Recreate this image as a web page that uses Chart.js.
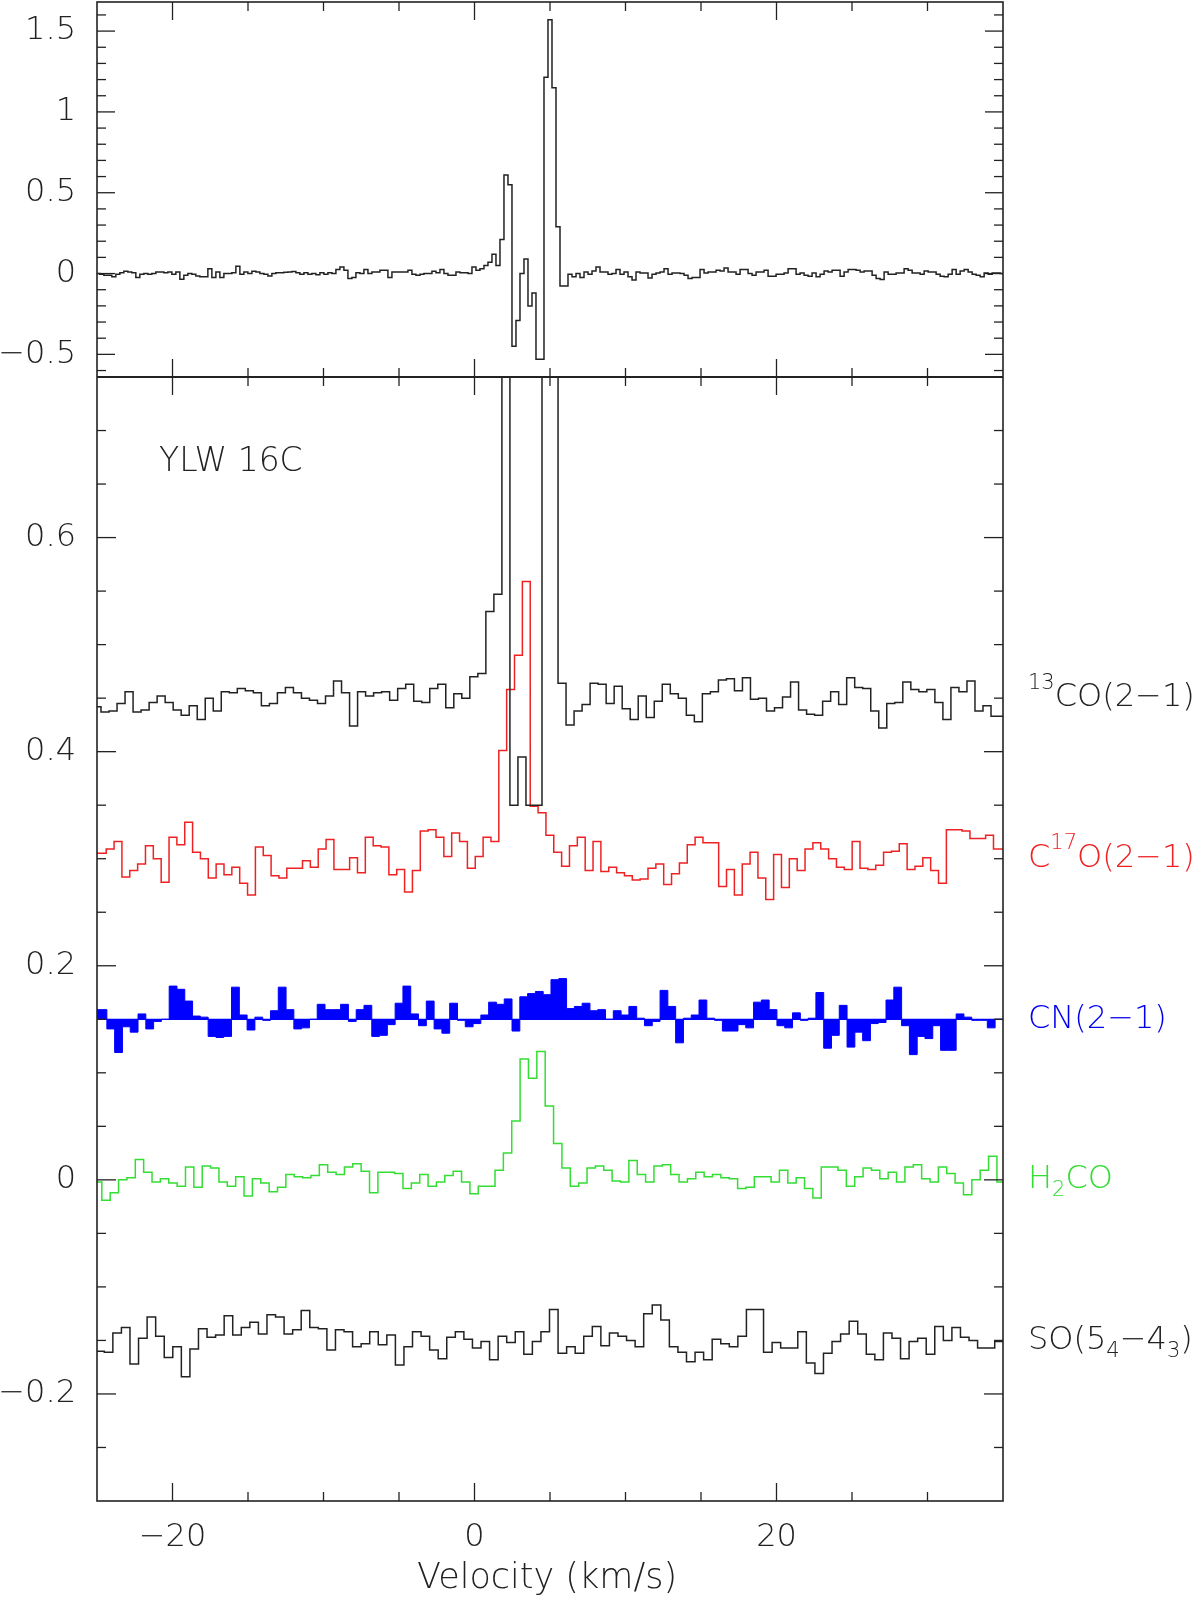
<!DOCTYPE html>
<html>
<head>
<meta charset="utf-8">
<script src="https://cdn.jsdelivr.net/npm/chart.js@4.4.1/dist/chart.umd.min.js"></script>
<style>
  html, body { margin: 0; padding: 0; background: #fff; }
  canvas { display: block; }
</style>
</head>
<body>
<canvas id="mycanvas" width="1200" height="1597" style="width:1200px;height:1597px"></canvas>
<script>
// axis ranges
var velRange = [-25, 35];
var topRange = [-0.64, 1.68];
var botRange = [-0.3, 0.75];

// tick positions and labels
var xMajor = [-20, 0, 20];
var xLabels = ['\u221220', '0', '20'];
var topMajor = [-0.5, 0, 0.5, 1, 1.5];
var topLabels = ['\u22120.5', '0', '0.5', '1', '1.5'];
var botMajor = [-0.2, 0, 0.2, 0.4, 0.6];
var botLabels = ['\u22120.2', '0', '0.2', '0.4', '0.6'];

// top panel spectrum (left edge of first channel, channel width, values)
var topStart = -25.078, topWidth = 0.265;
var topVals = [
  0.0, -0.005, -0.01, -0.01, -0.02, -0.005, 0.005, 0.015, 0.01, 0.005,
  -0.025, -0.005, 0.0, -0.005, 0.0, 0.01, 0.01, 0.005, 0.01, -0.005,
  0.01, -0.035, -0.01, 0.0, -0.005, -0.015, -0.02, -0.02, 0.03, -0.025,
  0.01, -0.025, 0.0, 0.0, 0.005, 0.045, -0.005, 0.01, 0.0, 0.015,
  0.01, 0.0, -0.005, -0.015, 0.0, 0.005, 0.005, 0.008, 0.01, 0.012,
  0.005, -0.005, 0.005, -0.005, 0.0, -0.008, 0.005, -0.005, 0.005, 0.0,
  0.025, 0.04, 0.02, -0.03, -0.025, 0.005, 0.0, 0.025, 0.0, 0.01,
  0.01, 0.02, 0.02, -0.025, 0.01, 0.01, 0.01, 0.01, 0.02, -0.005,
  -0.01, -0.005, 0.0, 0.0, 0.015, 0.005, 0.025, 0.0, -0.01, -0.01,
  0.01, 0.005, 0.005, 0.0, 0.04, 0.02, 0.03, 0.05, 0.07, 0.12,
  0.05, 0.21, 0.61, 0.55, -0.45, -0.29, 0.0, 0.09, -0.20, -0.12,
  -0.53, -0.53, 1.215, 1.57, 1.15, 0.29, -0.077, -0.077, -0.004, -0.02,
  0.0, -0.024, 0.01, -0.004, 0.016, 0.04, 0.01, 0.01, -0.004, 0.0,
  0.025, -0.004, 0.01, -0.02, -0.04, 0.01, 0.004, 0.004, -0.027, -0.004,
  0.004, 0.01, 0.03, -0.004, 0.004, 0.004, 0.0, -0.01, -0.03, -0.025,
  -0.025, 0.025, 0.004, 0.01, 0.01, 0.02, 0.016, 0.035, 0.01, 0.01,
  -0.004, 0.025, 0.025, 0.0, -0.01, 0.01, 0.01, 0.02, -0.016, -0.016,
  -0.004, -0.004, 0.004, 0.03, 0.03, -0.004, 0.004, -0.01, -0.016, 0.004,
  -0.02, -0.004, 0.016, 0.01, 0.02, 0.02, -0.016, 0.01, 0.025, 0.025,
  0.02, 0.01, 0.016, 0.016, -0.01, -0.03, -0.037, 0.01, -0.004, -0.004,
  0.004, 0.004, 0.03, 0.02, 0.004, 0.004, -0.004, 0.016, 0.01, 0.01,
  -0.004, -0.016, -0.02, -0.004, 0.025, -0.004, 0.016, 0.025, 0.01, -0.004,
  -0.01, -0.02, 0.004, -0.004, 0.004, 0.004, 0.0
];

// bottom panel spectra, already shifted by their offsets
var co13Start = -25.266, co13Width = 0.531;
var co13 = [
  0.442, 0.437, 0.438, 0.445, 0.456, 0.437, 0.439, 0.446, 0.452, 0.446,
  0.439, 0.434, 0.443, 0.430, 0.450, 0.438, 0.456, 0.455, 0.459, 0.457,
  0.455, 0.443, 0.445, 0.455, 0.460, 0.455, 0.450, 0.448, 0.445, 0.452,
  0.466, 0.455, 0.424, 0.456, 0.452, 0.455, 0.456, 0.448, 0.459, 0.463,
  0.447, 0.446, 0.459, 0.463, 0.441, 0.454, 0.450, 0.470, 0.473, 0.531,
  0.547, 0.90, 0.350, 0.395, 0.350, 0.350, 1.20, 1.00, 0.464, 0.425,
  0.438, 0.444, 0.464, 0.463, 0.445, 0.461, 0.440, 0.430, 0.452, 0.432,
  0.447, 0.463, 0.454, 0.450, 0.434, 0.428, 0.454, 0.456, 0.467, 0.468,
  0.457, 0.469, 0.449, 0.450, 0.438, 0.441, 0.451, 0.465, 0.439, 0.435,
  0.434, 0.447, 0.456, 0.444, 0.469, 0.460, 0.459, 0.438, 0.422, 0.445,
  0.446, 0.465, 0.458, 0.456, 0.458, 0.446, 0.430, 0.460, 0.456, 0.466,
  0.438, 0.443, 0.433, 0.433
];

var c17oStart = -25.43, c17oWidth = 0.52;
var c17o = [
  0.305, 0.305, 0.309, 0.316, 0.283, 0.289, 0.295, 0.312, 0.300, 0.278,
  0.320, 0.313, 0.334, 0.306, 0.300, 0.282, 0.295, 0.285, 0.292, 0.277,
  0.266, 0.311, 0.303, 0.284, 0.282, 0.291, 0.291, 0.298, 0.292, 0.309,
  0.318, 0.290, 0.290, 0.301, 0.287, 0.320, 0.312, 0.311, 0.285, 0.290,
  0.269, 0.289, 0.326, 0.327, 0.320, 0.302, 0.324, 0.316, 0.291, 0.302,
  0.320, 0.316, 0.401, 0.458, 0.490, 0.559, 0.349, 0.343, 0.322, 0.306,
  0.293, 0.312, 0.320, 0.289, 0.316, 0.288, 0.292, 0.287, 0.284, 0.280,
  0.281, 0.291, 0.295, 0.276, 0.286, 0.296, 0.313, 0.320, 0.315, 0.315,
  0.274, 0.290, 0.266, 0.295, 0.306, 0.282, 0.262, 0.304, 0.273, 0.300,
  0.289, 0.309, 0.315, 0.309, 0.300, 0.292, 0.290, 0.316, 0.291, 0.290,
  0.294, 0.306, 0.307, 0.314, 0.290, 0.293, 0.301, 0.289, 0.277, 0.327,
  0.327, 0.326, 0.319, 0.319, 0.322, 0.309, 0.309
];

var cnStart = -25.379, cnWidth = 0.516;
var cn = [
  0.159, 0.159, 0.141, 0.119, 0.143, 0.138, 0.155, 0.141, 0.148, 0.150,
  0.181, 0.178, 0.167, 0.153, 0.152, 0.134, 0.133, 0.134, 0.180, 0.154,
  0.140, 0.152, 0.149, 0.158, 0.180, 0.159, 0.141, 0.142, 0.150, 0.164,
  0.159, 0.159, 0.164, 0.148, 0.159, 0.163, 0.134, 0.135, 0.145, 0.165,
  0.181, 0.155, 0.144, 0.167, 0.141, 0.137, 0.165, 0.149, 0.143, 0.146,
  0.154, 0.166, 0.164, 0.169, 0.139, 0.171, 0.174, 0.176, 0.173, 0.187,
  0.188, 0.160, 0.162, 0.165, 0.158, 0.159, 0.150, 0.158, 0.154, 0.162,
  0.151, 0.144, 0.148, 0.177, 0.162, 0.128, 0.151, 0.154, 0.168, 0.151,
  0.149, 0.139, 0.139, 0.145, 0.142, 0.166, 0.168, 0.159, 0.144, 0.142,
  0.156, 0.149, 0.151, 0.175, 0.123, 0.135, 0.163, 0.124, 0.138, 0.130,
  0.146, 0.147, 0.168, 0.180, 0.144, 0.117, 0.134, 0.132, 0.144, 0.121,
  0.121, 0.155, 0.152, 0.149, 0.149, 0.142, 0.150, 0.150
];

var h2coStart = -25.234, h2coWidth = 0.554;
var h2co = [
  -0.002, -0.019, -0.012, 0.0, 0.002, 0.019, 0.007, -0.002, 0.001, -0.003,
  -0.006, 0.012, -0.007, 0.013, 0.011, -0.002, -0.006, 0.003, -0.015, 0.001,
  -0.003, -0.011, -0.007, 0.005, 0.003, 0.002, 0.004, 0.014, 0.007, 0.005,
  0.012, 0.015, 0.008, -0.012, 0.007, 0.007, 0.006, -0.008, -0.003, 0.005,
  -0.006, -0.002, 0.004, 0.008, -0.002, -0.013, -0.006, -0.006, 0.009, 0.025,
  0.055, 0.113, 0.095, 0.120, 0.069, 0.034, 0.011, -0.006, -0.003, 0.011,
  0.013, 0.009, -0.001, -0.002, 0.018, 0.005, -0.002, 0.013, 0.014, 0.005,
  -0.002, 0.001, 0.007, 0.003, 0.005, 0.002, 0.001, -0.008, -0.007, 0.003,
  0.003, -0.002, 0.009, -0.003, 0.002, -0.008, -0.017, 0.012, 0.012, 0.009,
  -0.006, 0.003, 0.011, 0.009, 0.001, 0.007, -0.002, 0.012, 0.014, 0.001,
  -0.002, 0.012, 0.006, -0.003, -0.014, 0.0, 0.009, 0.022, -0.002, -0.002
];

var soStart = -25.084, soWidth = 0.567;
var so = [
  -0.160, -0.161, -0.143, -0.138, -0.172, -0.148, -0.128, -0.146, -0.166, -0.156,
  -0.184, -0.158, -0.139, -0.147, -0.145, -0.127, -0.145, -0.138, -0.133, -0.144,
  -0.126, -0.128, -0.144, -0.140, -0.122, -0.138, -0.139, -0.159, -0.140, -0.142,
  -0.156, -0.153, -0.142, -0.154, -0.145, -0.173, -0.156, -0.142, -0.146, -0.159,
  -0.167, -0.147, -0.142, -0.149, -0.157, -0.151, -0.168, -0.146, -0.152, -0.142,
  -0.163, -0.151, -0.142, -0.121, -0.162, -0.156, -0.162, -0.146, -0.137, -0.155,
  -0.143, -0.146, -0.150, -0.156, -0.125, -0.117, -0.131, -0.156, -0.161, -0.170,
  -0.161, -0.168, -0.149, -0.153, -0.156, -0.146, -0.121, -0.121, -0.161, -0.152,
  -0.157, -0.157, -0.142, -0.171, -0.181, -0.162, -0.151, -0.144, -0.132, -0.144,
  -0.163, -0.168, -0.143, -0.148, -0.167, -0.151, -0.148, -0.163, -0.137, -0.150,
  -0.138, -0.147, -0.150, -0.157, -0.157, -0.151, -0.151
];

// baseline offsets of the bottom spectra (where the labels sit)
var lineOffsets = [0.45, 0.30, 0.15, 0.0, -0.15];
var cnBase = 0.15;

var FONT = '"DejaVu Sans", sans-serif';
var WEIGHT = '200 ';
var INK = '#222';

// histogram points: one per channel left edge, plus the closing right edge
function steps(start, width, vals) {
  var pts = [];
  for (var i = 0; i < vals.length; i++) {
    pts.push({x: start + width * i, y: vals[i]});
  }
  pts.push({x: start + width * vals.length, y: vals[vals.length - 1]});
  return pts;
}

function line(ctx, x0, y0, x1, y1) {
  ctx.beginPath();
  ctx.moveTo(x0, y0);
  ctx.lineTo(x1, y1);
  ctx.stroke();
}

function drawParts(ctx, x, y, parts, color) {
  ctx.fillStyle = color;
  ctx.textAlign = 'left';
  ctx.textBaseline = 'middle';
  parts.forEach(function(p) {
    var size = p[1] ? 21 : 32;
    var dy = p[1] === 'sup' ? -15 : (p[1] === 'sub' ? 11 : 0);
    ctx.font = WEIGHT + size + 'px ' + FONT;
    ctx.fillText(p[0], x, y + dy);
    x += ctx.measureText(p[0]).width;
  });
}

var labelParts = [
  [['13', 'sup'], ['CO(2\u22121)']],
  [['C'], ['17', 'sup'], ['O(2\u22121)']],
  [['CN(2\u22121)']],
  [['H'], ['2', 'sub'], ['CO']],
  [['SO(5'], ['4', 'sub'], ['\u22124'], ['3', 'sub'], [')']]
];
var labelColors = [INK, '#ee2222', '#0000ee', '#33dd33', INK];

var framePlugin = {
  id: 'framePlugin',
  beforeDatasetsDraw: function(chart) {
    var ctx = chart.ctx, a = chart.chartArea;
    var y = chart.scales.yBot.getPixelForValue(cnBase);
    ctx.save();
    ctx.strokeStyle = '#0000ff';
    ctx.lineWidth = 1.2;
    line(ctx, a.left, y, a.right, y);
    ctx.restore();
  },
  beforeDatasetDraw: function(chart, args) {
    var ys = chart.scales[args.meta.yAxisID];
    var a = chart.chartArea;
    var ctx = chart.ctx;
    ctx.save();
    ctx.beginPath();
    ctx.rect(a.left, ys.top, a.right - a.left, ys.bottom - ys.top);
    ctx.clip();
  },
  afterDatasetDraw: function(chart) {
    chart.ctx.restore();
  },
  afterDraw: function(chart) {
    var ctx = chart.ctx;
    var xs = chart.scales.x, yt = chart.scales.yTop, yb = chart.scales.yBot;
    var L = xs.left, R = xs.right;
    ctx.save();
    ctx.strokeStyle = INK;
    ctx.lineCap = 'butt';

    // frame and divider
    ctx.lineWidth = 1.6;
    ctx.strokeRect(L, yt.top, R - L, yb.bottom - yt.top);
    ctx.lineWidth = 2;
    line(ctx, L, yt.bottom, R, yt.bottom);

    // x ticks on both panel edges
    ctx.lineWidth = 1.3;
    [[yt.top, 1], [yt.bottom, -1], [yb.top, 1], [yb.bottom, -1]].forEach(function(e) {
      for (var k = -4; k <= 6; k++) {
        var v = k * 5;
        var len = xMajor.indexOf(v) >= 0 ? 18 : 9;
        var px = xs.getPixelForValue(v);
        line(ctx, px, e[0], px, e[0] + e[1] * len);
      }
    });

    // y ticks, left and right
    for (var k = -6; k <= 16; k++) {
      var py = yt.getPixelForValue(k / 10);
      var len = (k % 5 === 0) ? 18 : 9;
      line(ctx, L, py, L + len, py);
      line(ctx, R, py, R - len, py);
    }
    for (var k2 = -5; k2 <= 14; k2++) {
      var py2 = yb.getPixelForValue(k2 * 0.05);
      var len2 = (k2 % 4 === 0) ? 19 : 9;
      line(ctx, L, py2, L + len2, py2);
      line(ctx, R, py2, R - len2, py2);
    }

    // tick labels
    ctx.fillStyle = INK;
    ctx.font = WEIGHT + '32px ' + FONT;
    ctx.textAlign = 'right';
    ctx.textBaseline = 'middle';
    topMajor.forEach(function(v, i) { ctx.fillText(topLabels[i], L - 21, yt.getPixelForValue(v)); });
    botMajor.forEach(function(v, i) { ctx.fillText(botLabels[i], L - 21, yb.getPixelForValue(v)); });
    ctx.textAlign = 'center';
    xMajor.forEach(function(v, i) { ctx.fillText(xLabels[i], xs.getPixelForValue(v), yb.bottom + 37); });

    // axis title and source name
    ctx.font = WEIGHT + '35px ' + FONT;
    ctx.fillText('Velocity (km/s)', (L + R) / 2 - 3, yb.bottom + 78);
    ctx.textAlign = 'left';
    ctx.font = WEIGHT + '33px ' + FONT;
    ctx.fillText('YLW 16C', 159, 462);

    // line names at their baselines
    lineOffsets.forEach(function(off, i) {
      drawParts(ctx, R + 25, yb.getPixelForValue(off), labelParts[i], labelColors[i]);
    });
    ctx.restore();
  }
};

var common = { stepped: 'before', pointRadius: 0, borderWidth: 1.5, fill: false };

var chart = new Chart(document.getElementById('mycanvas'), {
  type: 'line',
  data: {
    datasets: [
      Object.assign({ label: 'top', data: steps(topStart, topWidth, topVals), yAxisID: 'yTop', borderColor: INK }, common),
      Object.assign({ label: '13CO(2-1)', data: steps(co13Start, co13Width, co13), yAxisID: 'yBot', borderColor: INK }, common),
      Object.assign({ label: 'C17O(2-1)', data: steps(c17oStart, c17oWidth, c17o), yAxisID: 'yBot', borderColor: '#ee2222' }, common),
      Object.assign({}, common, { label: 'CN(2-1)', data: steps(cnStart, cnWidth, cn), yAxisID: 'yBot', borderColor: '#0000ff', backgroundColor: '#0000ff', borderWidth: 1, fill: { value: cnBase } }),
      Object.assign({ label: 'H2CO', data: steps(h2coStart, h2coWidth, h2co), yAxisID: 'yBot', borderColor: '#33dd33' }, common),
      Object.assign({ label: 'SO', data: steps(soStart, soWidth, so), yAxisID: 'yBot', borderColor: INK }, common)
    ]
  },
  options: {
    responsive: false,
    animation: false,
    layout: { padding: { left: 97, right: 197, top: 2, bottom: 96 } },
    plugins: { legend: { display: false }, tooltip: { enabled: false } },
    scales: {
      x: { type: 'linear', min: velRange[0], max: velRange[1], display: false },
      yTop: { type: 'linear', position: 'left', stack: 'panels', stackWeight: 375, weight: 2, min: topRange[0], max: topRange[1], display: false },
      yBot: { type: 'linear', position: 'left', stack: 'panels', stackWeight: 1124, weight: 1, min: botRange[0], max: botRange[1], display: false }
    }
  },
  plugins: [framePlugin]
});
</script>
</body>
</html>
